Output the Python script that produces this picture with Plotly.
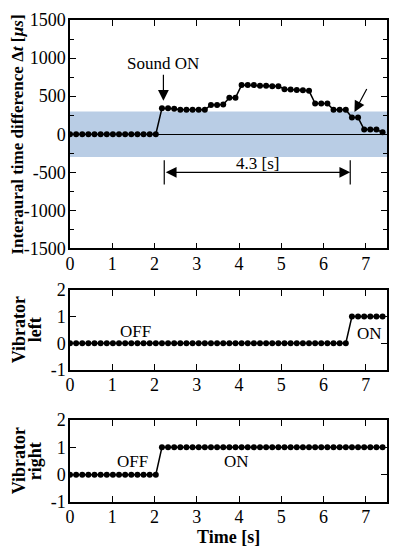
import plotly.graph_objects as go

# ---------------- data ----------------
time_s = [0, 0.145, 0.29, 0.435, 0.58, 0.725, 0.87, 1.015, 1.16, 1.305,
          1.45, 1.595, 1.74, 1.885, 2.03, 2.175, 2.32, 2.465, 2.61, 2.755,
          2.9, 3.045, 3.19, 3.335, 3.48, 3.625, 3.77, 3.915, 4.06, 4.205,
          4.35, 4.495, 4.64, 4.785, 4.93, 5.075, 5.22, 5.365, 5.51, 5.655,
          5.8, 5.945, 6.09, 6.235, 6.38, 6.525, 6.67, 6.815, 6.96, 7.105,
          7.25, 7.395]

itd_us = [0, 0, 0, 0, 0, 0, 0, 0, 0, 0, 0, 0, 0, 0, 0,
          340, 340, 335,
          322, 320, 320, 320, 320,
          385, 385, 390,
          480, 478,
          645, 645, 645, 638, 635, 631, 631, 592, 588, 580, 578, 570,
          404, 404, 402,
          322, 320, 320,
          219, 219,
          61, 61, 61,
          25]

vib_left = [0] * 46 + [1] * 6
vib_right = [0] * 15 + [1] * 37

band_limit = 300           # shaded tolerance band (+/- us)
sound_on_t = 2.21          # arrow "Sound ON"
end_arrow_tip = (6.73, 293)
end_arrow_tail = (7.04, 614)
span_start, span_end, span_y = 2.23, 6.63, -500
span_label = "4.3 [s]"

x_ticks = [0, 1, 2, 3, 4, 5, 6, 7]
itd_ticks = [-1500, -1000, -500, 0, 500, 1000, 1500]
itd_ticktext = ["-1500", "-1000", "-500", "0", "500", "1000", "1500"]
vib_ticks = [-1, 0, 1, 2]
vib_ticktext = ["-1", "0", "1", "2"]

FONT = "Liberation Serif, Times New Roman, Times, serif"
BLACK = "black"

fig = go.Figure()

line_style = dict(color=BLACK, width=1.5)
marker_style = dict(color=BLACK, size=6, symbol="circle")

fig.add_trace(go.Scatter(x=time_s, y=itd_us, mode="lines+markers",
                         line=line_style, marker=marker_style,
                         xaxis="x", yaxis="y", showlegend=False))
fig.add_trace(go.Scatter(x=time_s, y=vib_left, mode="lines+markers",
                         line=line_style, marker=marker_style,
                         xaxis="x2", yaxis="y2", showlegend=False))
fig.add_trace(go.Scatter(x=time_s, y=vib_right, mode="lines+markers",
                         line=line_style, marker=marker_style,
                         xaxis="x3", yaxis="y3", showlegend=False))

tickfont = dict(family=FONT, size=18, color=BLACK)

def xax(anchor):
    return dict(range=[0, 7.5], tickvals=x_ticks, ticks="inside", ticklen=6,
                tickwidth=1.2, tickcolor=BLACK, showline=True, linecolor=BLACK,
                linewidth=1.5, mirror="ticks", showgrid=False, zeroline=False,
                tickfont=tickfont, anchor=anchor, domain=[0, 1],
                ticklabelstandoff=-2)

def yax(domain, rng, tv, tt, anchor, minor=None, zeroline=False):
    d = dict(range=rng, tickvals=tv, ticktext=tt, ticks="inside", ticklen=6,
             tickwidth=1.2, tickcolor=BLACK, showline=True, linecolor=BLACK,
             linewidth=1.5, mirror="ticks", showgrid=False, zeroline=zeroline,
             zerolinecolor=BLACK, zerolinewidth=1.2,
             tickfont=tickfont, anchor=anchor, domain=domain,
             ticklabelstandoff=-1)
    if minor:
        d["minor"] = minor
    return d

fig.update_layout(
    width=383, height=542,
    margin=dict(l=62, r=2, t=12, b=48),
    paper_bgcolor="white", plot_bgcolor="white",
    font=dict(family=FONT, size=17, color=BLACK),
    xaxis=xax("y"),
    xaxis2=xax("y2"),
    xaxis3=xax("y3"),
    yaxis=yax([0.526, 1], [-1500, 1500], itd_ticks, itd_ticktext,
              "x", minor=dict(dtick=250, ticks="inside", ticklen=4,
                              tickcolor=BLACK, tickwidth=1.2),
              zeroline=True),
    yaxis2=yax([0.274, 0.44], [-1, 2], vib_ticks, vib_ticktext, "x2"),
    yaxis3=yax([0, 0.170], [-1, 2], vib_ticks, vib_ticktext, "x3"),
)

# shaded band
fig.add_shape(type="rect", xref="x domain", yref="y", x0=0, x1=1,
              y0=-band_limit, y1=band_limit, fillcolor="#b9cde5",
              line=dict(width=0), layer="below")

# span end bars
for xv in (span_start, span_end):
    fig.add_shape(type="line", xref="x", yref="y", x0=xv, x1=xv,
                  y0=span_y + 160, y1=span_y - 160,
                  line=dict(color=BLACK, width=1.2))

ann = []
# Sound ON
ann.append(dict(x=sound_on_t, y=930, xref="x", yref="y", text="Sound ON",
                showarrow=False, font=dict(size=17), xanchor="center",
                yanchor="middle"))
ann.append(dict(x=sound_on_t, y=440, ax=sound_on_t, ay=800, xref="x", yref="y",
                axref="x", ayref="y", text="", showarrow=True, arrowhead=2,
                arrowsize=1.8, arrowwidth=1.2, arrowcolor=BLACK))
# end arrow
ann.append(dict(x=end_arrow_tip[0], y=end_arrow_tip[1], ax=end_arrow_tail[0],
                ay=end_arrow_tail[1], xref="x", yref="y", axref="x", ayref="y",
                text="", showarrow=True, arrowhead=2, arrowsize=1.8,
                arrowwidth=1.2, arrowcolor=BLACK))
# span double arrow
ann.append(dict(x=span_end, y=span_y, ax=span_start, ay=span_y, xref="x",
                yref="y", axref="x", ayref="y", text="", showarrow=True,
                arrowhead=2, startarrowhead=2, arrowside="end+start",
                arrowsize=1.8, startarrowsize=1.8, arrowwidth=1.2,
                arrowcolor=BLACK))
ann.append(dict(x=(span_start + span_end) / 2, y=span_y + 120, xref="x",
                yref="y", text=span_label, showarrow=False,
                font=dict(size=17), yanchor="middle"))
# OFF / ON labels
ann.append(dict(x=1.55, y=0.44, xref="x2", yref="y2", text="OFF",
                showarrow=False, font=dict(size=17)))
ann.append(dict(x=7.08, y=0.38, xref="x2", yref="y2", text="ON",
                showarrow=False, font=dict(size=17)))
ann.append(dict(x=1.49, y=0.47, xref="x3", yref="y3", text="OFF",
                showarrow=False, font=dict(size=17)))
ann.append(dict(x=3.93, y=0.47, xref="x3", yref="y3", text="ON",
                showarrow=False, font=dict(size=17)))

# axis titles (paper x = (pixel - 70) / 319)
title_font = dict(family=FONT, size=17, color=BLACK)
label_font = dict(family=FONT, size=18, color=BLACK)
ann.append(dict(x=-0.166, y=0.763, xref="paper", yref="paper",
                text="<b>Interaural time difference Δ<i>t</i> [<i>µs</i>]</b>",
                textangle=-90, showarrow=False, font=title_font,
                xanchor="center", yanchor="middle"))
for line_text, px, yc in (("Vibrator", 19, 0.357), ("left", 35, 0.357),
                          ("Vibrator", 19, 0.085), ("right", 35, 0.085)):
    ann.append(dict(x=(px - 70) / 319, y=yc, xref="paper", yref="paper",
                    text="<b>%s</b>" % line_text, textangle=-90,
                    showarrow=False, font=label_font,
                    xanchor="center", yanchor="middle"))
ann.append(dict(x=0.5, y=-0.0726, xref="paper", yref="paper",
                text="<b>Time [s]</b>", showarrow=False,
                font=dict(family=FONT, size=18, color=BLACK),
                xanchor="center", yanchor="middle"))

fig.update_layout(annotations=ann)

fig.write_html("out.html")
